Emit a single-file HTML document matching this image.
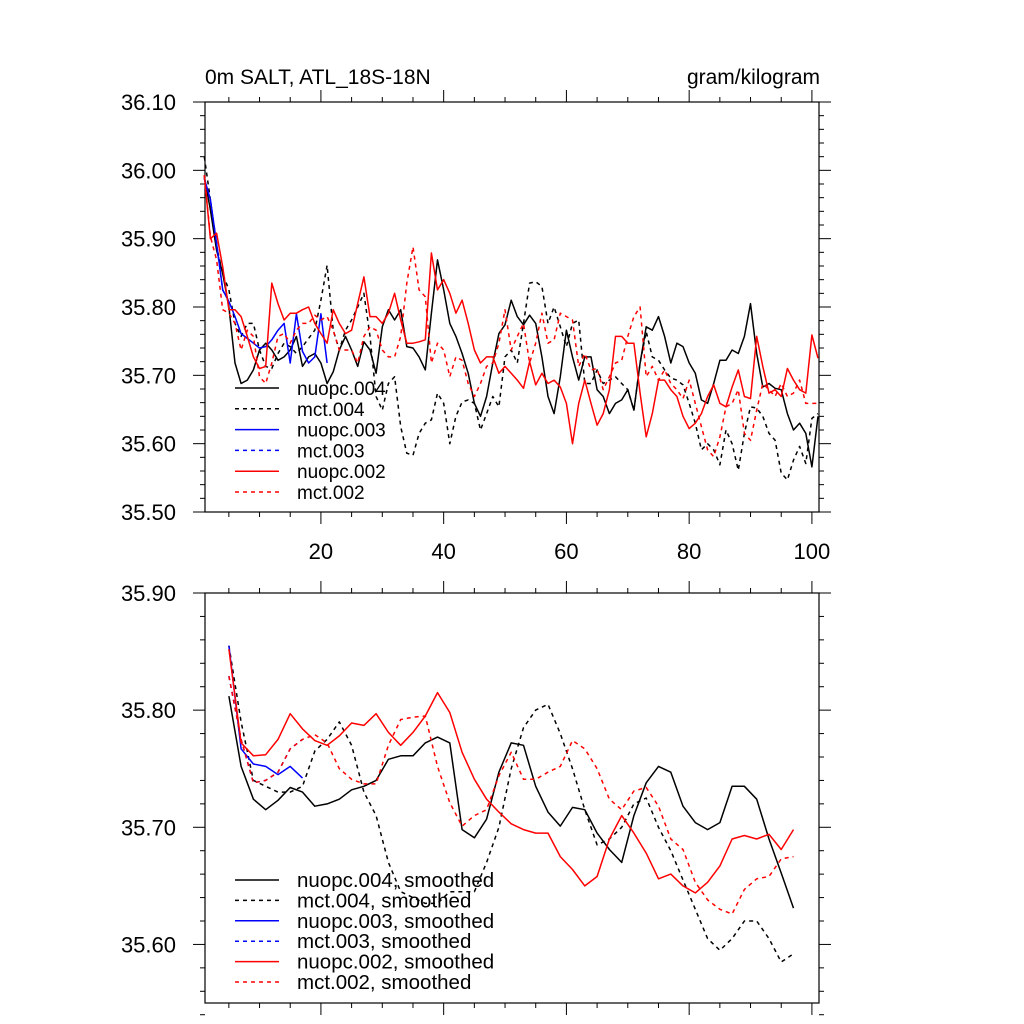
<!DOCTYPE html>
<html><head><meta charset="utf-8"><style>
body{margin:0;background:#fff;}
svg{display:block;font-family:"Liberation Sans",sans-serif;}
</style></head><body>
<svg id="chart" width="1024" height="1024" viewBox="0 0 1024 1024"></svg>
<script>
// ---------- data ----------
const topYears = [1,2,3,4,5,6,7,8,9,10,11,12,13,14,15,16,17,18,19,20,21,22,23,24,25,26,27,28,29,30,31,32,33,34,35,36,37,38,39,40,41,42,43,44,45,46,47,48,49,50,51,52,53,54,55,56,57,58,59,60,61,62,63,64,65,66,67,68,69,70,71,72,73,74,75,76,77,78,79,80,81,82,83,84,85,86,87,88,89,90,91,92,93,94,95,96,97,98,99,100,101];
const nuopc004 = [35.991,35.942,35.883,35.849,35.800,35.718,35.688,35.693,35.708,35.737,35.747,35.737,35.722,35.727,35.737,35.757,35.713,35.727,35.732,35.718,35.688,35.705,35.737,35.757,35.737,35.713,35.749,35.737,35.703,35.771,35.796,35.781,35.796,35.742,35.740,35.727,35.708,35.791,35.869,35.825,35.776,35.757,35.732,35.703,35.659,35.640,35.669,35.718,
35.761,35.774,35.810,35.786,35.774,35.788,35.776,35.727,35.669,35.644,35.698,35.766,35.727,35.693,35.727,35.727,35.679,35.669,35.644,35.659,35.664,35.679,35.649,35.718,35.771,35.766,35.786,35.757,35.718,35.747,35.742,35.718,35.703,35.664,35.659,35.688,35.722,35.722,35.737,35.732,35.757,35.805,35.732,35.683,35.688,35.681,35.679,35.644,35.620,35.630,35.615,35.566,35.640];
const mct004 = [36.020,35.957,35.888,35.849,35.825,35.776,35.757,35.776,35.776,35.737,35.713,35.710,35.732,35.747,35.742,35.732,35.742,35.754,35.766,35.810,35.861,35.766,35.737,35.766,35.781,35.800,35.820,35.757,35.669,35.649,35.688,35.698,35.625,35.586,35.583,35.615,35.630,35.635,35.674,35.659,35.600,35.640,35.661,35.664,35.659,35.620,35.644,35.669,
35.654,35.727,35.737,35.718,35.776,35.835,35.837,35.830,35.776,35.800,35.771,35.742,35.776,35.781,35.688,35.688,35.708,35.688,35.693,35.698,35.688,35.679,35.649,35.718,35.764,35.727,35.722,35.708,35.696,35.693,35.686,35.659,35.630,35.591,35.600,35.591,35.569,35.620,35.600,35.561,35.615,35.654,35.652,35.640,35.615,35.605,35.557,35.547,35.576,35.596,35.571,35.637,35.644];
const years003 = [1,2,3,4,5,6,7,8,9,10,11,12,13,14,15,16,17,18,19,20,21];
const nuopc003 = [35.988,35.957,35.893,35.825,35.808,35.786,35.761,35.754,35.747,35.740,35.742,35.752,35.766,35.776,35.718,35.790,35.735,35.718,35.727,35.790,35.718];
const mct003Years = [1,2,3,4,5];
const mct003 = [35.988,35.957,35.893,35.825,35.808];
const nuopc002 = [35.993,35.900,35.908,35.859,35.796,35.796,35.786,35.757,35.727,35.710,35.713,35.835,35.805,35.781,35.791,35.791,35.796,35.800,35.776,35.761,35.747,35.796,35.776,35.761,35.766,35.805,35.844,35.786,35.786,35.776,35.791,35.820,35.781,35.747,35.747,35.749,35.752,35.879,35.825,35.840,35.820,35.791,35.810,35.776,35.737,35.718,35.727,35.727,
35.703,35.713,35.703,35.693,35.681,35.720,35.686,35.703,35.688,35.693,35.683,35.659,35.600,35.659,35.693,35.659,35.627,35.644,35.679,35.757,35.757,35.747,35.747,35.674,35.610,35.644,35.693,35.693,35.679,35.669,35.640,35.622,35.630,35.644,35.669,35.686,35.659,35.654,35.683,35.708,35.669,35.666,35.757,35.713,35.674,35.679,35.669,35.710,35.693,35.679,35.674,35.759,35.725];
const mct002 = [35.993,35.903,35.869,35.796,35.791,35.776,35.737,35.766,35.757,35.698,35.688,35.718,35.757,35.761,35.747,35.766,35.776,35.776,35.788,35.781,35.786,35.766,35.737,35.737,35.737,35.718,35.757,35.771,35.766,35.737,35.727,35.727,35.757,35.835,35.888,35.825,35.815,35.718,35.747,35.737,35.698,35.727,35.722,35.688,35.669,35.688,35.713,35.718,
35.747,35.796,35.737,35.757,35.776,35.718,35.747,35.791,35.747,35.752,35.791,35.786,35.781,35.713,35.732,35.708,35.710,35.679,35.698,35.718,35.722,35.757,35.786,35.800,35.698,35.713,35.693,35.708,35.688,35.679,35.666,35.693,35.659,35.625,35.591,35.581,35.610,35.654,35.659,35.679,35.615,35.605,35.649,35.688,35.679,35.669,35.688,35.669,35.674,35.693,35.659,35.659,35.659];

const smYears = [5,7,9,11,13,15,17,19,21,23,25,27,29,31,33,35,37,39,41,43,45,47,49,51,53,55,57,59,61,63,65,67,69,71,73,75,77,79,81,83,85,87,89,91,93,95,97];
const nuopc004Sm = [35.812,35.752,35.724,35.715,35.723,35.734,35.730,35.718,35.720,35.724,35.732,35.735,35.740,35.758,35.761,35.761,35.772,35.777,35.772,35.698,35.691,35.707,35.747,35.772,35.770,35.735,35.713,35.701,35.717,35.715,35.695,35.681,35.670,35.710,35.738,35.752,35.747,35.718,35.704,35.698,35.704,35.735,35.735,35.724,35.690,35.661,35.631];
const mct004Sm = [35.855,35.790,35.740,35.735,35.730,35.730,35.735,35.765,35.775,35.790,35.770,35.730,35.710,35.670,35.645,35.640,35.635,35.635,35.645,35.645,35.645,35.670,35.700,35.750,35.785,35.800,35.805,35.780,35.750,35.715,35.685,35.690,35.700,35.720,35.725,35.700,35.680,35.655,35.630,35.605,35.595,35.605,35.620,35.620,35.605,35.585,35.592];
const smYears003 = [5,7,9,11,13,15,17];
const nuopc003Sm = [35.855,35.767,35.754,35.752,35.745,35.752,35.742];
const mct003Sm = [35.829,35.775,35.738,35.740,35.747,35.767,35.775];
const nuopc002Sm = [35.852,35.772,35.761,35.762,35.775,35.797,35.784,35.774,35.770,35.778,35.789,35.787,35.797,35.781,35.770,35.781,35.795,35.815,35.798,35.764,35.741,35.724,35.713,35.703,35.698,35.695,35.695,35.675,35.664,35.650,35.658,35.690,35.710,35.695,35.678,35.656,35.660,35.650,35.644,35.653,35.667,35.690,35.693,35.690,35.694,35.681,35.698];
const mct002Sm = [35.829,35.775,35.738,35.740,35.747,35.767,35.775,35.779,35.772,35.750,35.741,35.737,35.737,35.770,35.792,35.794,35.795,35.752,35.721,35.701,35.710,35.715,35.744,35.764,35.741,35.741,35.747,35.752,35.774,35.767,35.750,35.724,35.715,35.731,35.734,35.718,35.690,35.681,35.653,35.638,35.630,35.626,35.647,35.656,35.658,35.673,35.675];

const topTicksY = ["36.10","36.00","35.90","35.80","35.70","35.60","35.50"];
const botTicksY = ["35.90","35.80","35.70","35.60"];
const xTickLabels = ["20","40","60","80","100"];

// ---------- axes ----------
const NS = "http://www.w3.org/2000/svg";
const svg = document.getElementById('chart');
const L = 205, R = 819;
const xS = v => 204.3 + (v - 1) * 6.1375;
const P1 = {top:102, bot:512, vmax:36.10, vmin:35.50};
const P2 = {top:593, bot:1003, vmax:35.90, vmin:35.55};
const yS = (p, v) => p.top + (p.vmax - v) / (p.vmax - p.vmin) * (p.bot - p.top);

function el(tag, attrs, parent){
  const e = document.createElementNS(NS, tag);
  for (const k in attrs) e.setAttribute(k, attrs[k]);
  (parent || svg).appendChild(e);
  return e;
}

function drawPanel(p, ticks, showX, name){
  const g = el('g', {});
  
  
  const fr = el('rect', {x:L, y:p.top, width:R-L, height:p.bot-p.top, fill:'none', stroke:'#000', 'stroke-width':1.2}, g);
  
  
  for (let v = 5; v <= 100; v += 5) {
    const x = xS(v), major = v % 20 === 0;
    const len = major ? 12 : 5;
    el('line', {x1:x, x2:x, y1:p.bot, y2:p.bot+len, stroke:'#000', 'stroke-width':1}, g);
    el('line', {x1:x, x2:x, y1:p.top, y2:p.top-len, stroke:'#000', 'stroke-width':1}, g);
  }
  const steps = Math.round((p.vmax - p.vmin) / 0.02);
  for (let i = 0; i <= steps; i++) {
    const v = p.vmax - i * 0.02;
    const y = yS(p, v), major = i % 5 === 0;
    const len = major ? 12 : 5;
    el('line', {x1:L, x2:L-len, y1:y, y2:y, stroke:'#000', 'stroke-width':1}, g);
    el('line', {x1:R, x2:R+len, y1:y, y2:y, stroke:'#000', 'stroke-width':1}, g);
  }
  ticks.forEach(t => {
    const tx = el('text', {x:176, y:yS(p, parseFloat(t)) + 8, 'text-anchor':'end', 'font-size':22}, g);
    tx.textContent = t;
    
    
  });
  if (showX) xTickLabels.forEach(t => {
    const tx = el('text', {x:xS(parseFloat(t)), y:p.bot+47, 'text-anchor':'middle', 'font-size':22}, g);
    tx.textContent = t;
    
    
  });
}

function series(p, xs, ys, color, dashed, name){
  const pts = ys.map((v, i) => xS(xs[i]).toFixed(1) + ',' + yS(p, v).toFixed(1)).join(' ');
  const pl = el('polyline', {points:pts, fill:'none', stroke:color, 'stroke-width':1.5, 'stroke-linejoin':'round'});
  if (dashed) pl.setAttribute('stroke-dasharray', '4,4');
  
  
}

function legend(x0, y0, dy, fs, items, name){
  const g = el('g', {});
  
  
  items.forEach((it, i) => {
    const y = y0 + i * dy;
    const ln = el('line', {x1:235, x2:279, y1:y, y2:y, stroke:it[1], 'stroke-width':1.5}, g);
    if (it[2]) ln.setAttribute('stroke-dasharray', '4,4');
    const t = el('text', {x:297, y:y+7, 'font-size':fs}, g);
    t.textContent = it[0];
    
    
  });
}

drawPanel(P1, topTicksY, true, 'top-panel');
drawPanel(P2, botTicksY, false, 'bottom-panel');

const t1 = el('text', {x:205, y:84, 'font-size':21});
t1.textContent = '0m SALT, ATL_18S-18N';


const t2 = el('text', {x:820, y:84, 'font-size':21, 'text-anchor':'end'});
t2.textContent = 'gram/kilogram';



series(P1, topYears, nuopc004, '#000', false, 'line-nuopc-004');
series(P1, topYears, mct004, '#000', true, 'line-mct-004');
series(P1, mct003Years, mct003, '#0000ff', true, 'line-mct-003');
series(P1, years003, nuopc003, '#0000ff', false, 'line-nuopc-003');
series(P1, topYears, nuopc002, '#ff0000', false, 'line-nuopc-002');
series(P1, topYears, mct002, '#ff0000', true, 'line-mct-002');

series(P2, smYears, nuopc004Sm, '#000', false, 'line-nuopc-004-smoothed');
series(P2, smYears, mct004Sm, '#000', true, 'line-mct-004-smoothed');
series(P2, smYears003, mct003Sm, '#0000ff', true, 'line-mct-003-smoothed');
series(P2, smYears003, nuopc003Sm, '#0000ff', false, 'line-nuopc-003-smoothed');
series(P2, smYears, nuopc002Sm, '#ff0000', false, 'line-nuopc-002-smoothed');
series(P2, smYears, mct002Sm, '#ff0000', true, 'line-mct-002-smoothed');

legend(235, 388, 20.8, 19, [['nuopc.004','#000',false],['mct.004','#000',true],['nuopc.003','#0000ff',false],['mct.003','#0000ff',true],['nuopc.002','#ff0000',false],['mct.002','#ff0000',true]], 'top-legend');
legend(235, 880, 20.4, 20.5, [['nuopc.004, smoothed','#000',false],['mct.004, smoothed','#000',true],['nuopc.003, smoothed','#0000ff',false],['mct.003, smoothed','#0000ff',true],['nuopc.002, smoothed','#ff0000',false],['mct.002, smoothed','#ff0000',true]], 'bottom-legend');
</script>
</body></html>
